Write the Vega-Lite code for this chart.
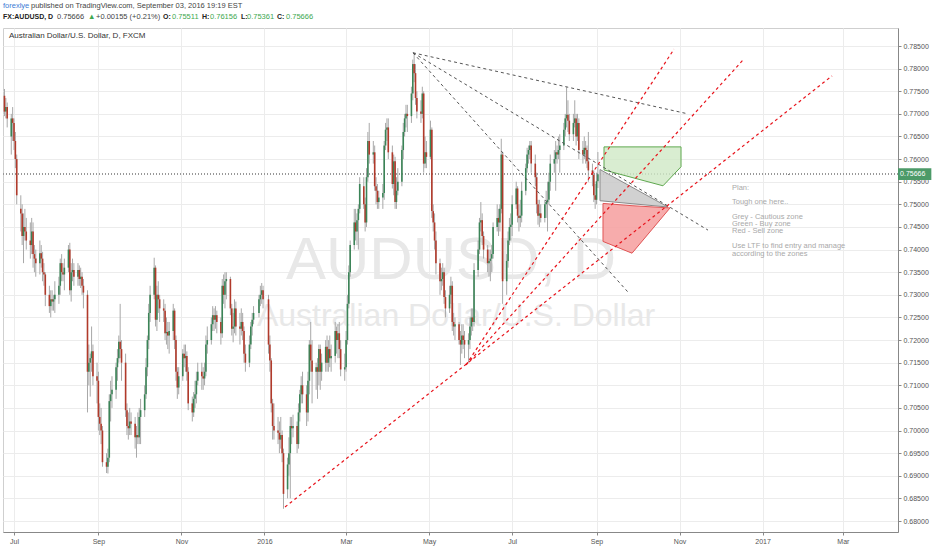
{
"$schema":"https://vega.github.io/schema/vega-lite/v6.json",
"width":895,"height":504,
"autosize":{"type":"none"},
"padding":{"left":3,"top":28,"right":34,"bottom":18},
"background":"white",
"config":{"view":{"stroke":"#cfcfcf"},"font":"Liberation Sans","text":{"font":"Liberation Sans"},
 "locale":{"time":{"dateTime":"%x, %X","date":"%-m/%-d/%Y","time":"%-I:%M:%S %p","periods":["AM","PM"],
  "days":["Sunday","Monday","Tuesday","Wednesday","Thursday","Friday","Saturday"],
  "shortDays":["Sun","Mon","Tue","Wed","Thu","Fri","Sat"],
  "months":["Jan","Feb","Mar","Apr","May","Jun","Jul","Aug","Sep","Oct","Nov","Dec"],
  "shortMonths":["Jan","Feb","Mar","Apr","May","Jun","Jul","Aug","Sep","Oct","Nov","Dec"]}}},
"datasets":{
"candles":[
{"t":"2015-06-24","o":0.7740,"h":0.7755,"l":0.7695,"c":0.7705},
{"t":"2015-06-25","o":0.7705,"h":0.7735,"l":0.7690,"c":0.7715},
{"t":"2015-06-26","o":0.7715,"h":0.7725,"l":0.7670,"c":0.7690},
{"t":"2015-06-29","o":0.7650,"h":0.7700,"l":0.7610,"c":0.7690},
{"t":"2015-06-30","o":0.7690,"h":0.7715,"l":0.7640,"c":0.7680},
{"t":"2015-07-01","o":0.7680,"h":0.7690,"l":0.7620,"c":0.7640},
{"t":"2015-07-02","o":0.7640,"h":0.7660,"l":0.7580,"c":0.7600},
{"t":"2015-07-03","o":0.7600,"h":0.7610,"l":0.7500,"c":0.7520},
{"t":"2015-07-06","o":0.7490,"h":0.7520,"l":0.7440,"c":0.7480},
{"t":"2015-07-07","o":0.7480,"h":0.7500,"l":0.7410,"c":0.7430},
{"t":"2015-07-08","o":0.7430,"h":0.7480,"l":0.7370,"c":0.7450},
{"t":"2015-07-09","o":0.7450,"h":0.7490,"l":0.7420,"c":0.7440},
{"t":"2015-07-10","o":0.7440,"h":0.7470,"l":0.7400,"c":0.7420},
{"t":"2015-07-13","o":0.7420,"h":0.7460,"l":0.7380,"c":0.7410},
{"t":"2015-07-14","o":0.7410,"h":0.7470,"l":0.7390,"c":0.7440},
{"t":"2015-07-15","o":0.7440,"h":0.7460,"l":0.7360,"c":0.7390},
{"t":"2015-07-16","o":0.7390,"h":0.7410,"l":0.7350,"c":0.7380},
{"t":"2015-07-17","o":0.7380,"h":0.7400,"l":0.7340,"c":0.7370},
{"t":"2015-07-20","o":0.7370,"h":0.7420,"l":0.7345,"c":0.7392},
{"t":"2015-07-21","o":0.7392,"h":0.7410,"l":0.7360,"c":0.7380},
{"t":"2015-07-22","o":0.7380,"h":0.7395,"l":0.7330,"c":0.7350},
{"t":"2015-07-23","o":0.7350,"h":0.7370,"l":0.7320,"c":0.7345},
{"t":"2015-07-24","o":0.7345,"h":0.7350,"l":0.7275,"c":0.7300},
{"t":"2015-07-27","o":0.7300,"h":0.7320,"l":0.7260,"c":0.7275},
{"t":"2015-07-28","o":0.7275,"h":0.7310,"l":0.7250,"c":0.7290},
{"t":"2015-07-29","o":0.7290,"h":0.7310,"l":0.7265,"c":0.7285},
{"t":"2015-07-30","o":0.7285,"h":0.7300,"l":0.7265,"c":0.7290},
{"t":"2015-07-31","o":0.7290,"h":0.7330,"l":0.7260,"c":0.7300},
{"t":"2015-08-03","o":0.7300,"h":0.7340,"l":0.7280,"c":0.7320},
{"t":"2015-08-04","o":0.7320,"h":0.7380,"l":0.7300,"c":0.7370},
{"t":"2015-08-05","o":0.7370,"h":0.7390,"l":0.7330,"c":0.7350},
{"t":"2015-08-06","o":0.7350,"h":0.7370,"l":0.7330,"c":0.7345},
{"t":"2015-08-07","o":0.7345,"h":0.7380,"l":0.7310,"c":0.7360},
{"t":"2015-08-10","o":0.7360,"h":0.7410,"l":0.7350,"c":0.7400},
{"t":"2015-08-11","o":0.7400,"h":0.7415,"l":0.7300,"c":0.7310},
{"t":"2015-08-12","o":0.7310,"h":0.7370,"l":0.7285,"c":0.7350},
{"t":"2015-08-13","o":0.7350,"h":0.7380,"l":0.7330,"c":0.7355},
{"t":"2015-08-14","o":0.7355,"h":0.7370,"l":0.7320,"c":0.7340},
{"t":"2015-08-17","o":0.7340,"h":0.7370,"l":0.7320,"c":0.7355},
{"t":"2015-08-18","o":0.7355,"h":0.7365,"l":0.7320,"c":0.7335},
{"t":"2015-08-19","o":0.7335,"h":0.7360,"l":0.7315,"c":0.7340},
{"t":"2015-08-20","o":0.7340,"h":0.7350,"l":0.7300,"c":0.7320},
{"t":"2015-08-21","o":0.7320,"h":0.7335,"l":0.7270,"c":0.7305},
{"t":"2015-08-24","o":0.7300,"h":0.7310,"l":0.7040,"c":0.7130},
{"t":"2015-08-25","o":0.7130,"h":0.7190,"l":0.7100,"c":0.7150},
{"t":"2015-08-26","o":0.7150,"h":0.7170,"l":0.7075,"c":0.7160},
{"t":"2015-08-27","o":0.7160,"h":0.7230,"l":0.7130,"c":0.7175},
{"t":"2015-08-28","o":0.7175,"h":0.7190,"l":0.7100,"c":0.7120},
{"t":"2015-08-31","o":0.7120,"h":0.7150,"l":0.7060,"c":0.7110},
{"t":"2015-09-01","o":0.7110,"h":0.7130,"l":0.7000,"c":0.7030},
{"t":"2015-09-02","o":0.7030,"h":0.7060,"l":0.6990,"c":0.7015},
{"t":"2015-09-03","o":0.7015,"h":0.7050,"l":0.6970,"c":0.7000},
{"t":"2015-09-04","o":0.7000,"h":0.7010,"l":0.6920,"c":0.6930},
{"t":"2015-09-07","o":0.6930,"h":0.6950,"l":0.6906,"c":0.6920},
{"t":"2015-09-08","o":0.6920,"h":0.6960,"l":0.6905,"c":0.6940},
{"t":"2015-09-09","o":0.6940,"h":0.7080,"l":0.6930,"c":0.7065},
{"t":"2015-09-10","o":0.7065,"h":0.7110,"l":0.7020,"c":0.7080},
{"t":"2015-09-11","o":0.7080,"h":0.7120,"l":0.7050,"c":0.7090},
{"t":"2015-09-14","o":0.7090,"h":0.7150,"l":0.7070,"c":0.7140},
{"t":"2015-09-15","o":0.7140,"h":0.7180,"l":0.7110,"c":0.7160},
{"t":"2015-09-16","o":0.7160,"h":0.7210,"l":0.7150,"c":0.7196},
{"t":"2015-09-17","o":0.7196,"h":0.7280,"l":0.7160,"c":0.7180},
{"t":"2015-09-18","o":0.7180,"h":0.7200,"l":0.7110,"c":0.7150},
{"t":"2015-09-21","o":0.7150,"h":0.7170,"l":0.7030,"c":0.7045},
{"t":"2015-09-22","o":0.7045,"h":0.7060,"l":0.6990,"c":0.7010},
{"t":"2015-09-23","o":0.7010,"h":0.7040,"l":0.6980,"c":0.7005},
{"t":"2015-09-24","o":0.7005,"h":0.7050,"l":0.6990,"c":0.7020},
{"t":"2015-09-25","o":0.7020,"h":0.7040,"l":0.6990,"c":0.7015},
{"t":"2015-09-28","o":0.7015,"h":0.7030,"l":0.6960,"c":0.6985},
{"t":"2015-09-29","o":0.6985,"h":0.7010,"l":0.6940,"c":0.6990},
{"t":"2015-09-30","o":0.6990,"h":0.7040,"l":0.6970,"c":0.6985},
{"t":"2015-10-01","o":0.6985,"h":0.7050,"l":0.6970,"c":0.7030},
{"t":"2015-10-02","o":0.7030,"h":0.7070,"l":0.6970,"c":0.7045},
{"t":"2015-10-05","o":0.7045,"h":0.7100,"l":0.7030,"c":0.7080},
{"t":"2015-10-06","o":0.7080,"h":0.7160,"l":0.7070,"c":0.7140},
{"t":"2015-10-07","o":0.7140,"h":0.7210,"l":0.7120,"c":0.7200},
{"t":"2015-10-08","o":0.7200,"h":0.7280,"l":0.7180,"c":0.7260},
{"t":"2015-10-09","o":0.7260,"h":0.7320,"l":0.7240,"c":0.7300},
{"t":"2015-10-12","o":0.7300,"h":0.7382,"l":0.7290,"c":0.7360},
{"t":"2015-10-13","o":0.7360,"h":0.7365,"l":0.7230,"c":0.7245},
{"t":"2015-10-14","o":0.7245,"h":0.7320,"l":0.7220,"c":0.7300},
{"t":"2015-10-15","o":0.7300,"h":0.7330,"l":0.7260,"c":0.7290},
{"t":"2015-10-16","o":0.7290,"h":0.7300,"l":0.7240,"c":0.7270},
{"t":"2015-10-19","o":0.7270,"h":0.7290,"l":0.7240,"c":0.7265},
{"t":"2015-10-20","o":0.7265,"h":0.7280,"l":0.7200,"c":0.7215},
{"t":"2015-10-21","o":0.7215,"h":0.7250,"l":0.7190,"c":0.7218},
{"t":"2015-10-22","o":0.7218,"h":0.7240,"l":0.7180,"c":0.7210},
{"t":"2015-10-23","o":0.7210,"h":0.7240,"l":0.7170,"c":0.7220},
{"t":"2015-10-26","o":0.7220,"h":0.7280,"l":0.7200,"c":0.7265},
{"t":"2015-10-27","o":0.7265,"h":0.7270,"l":0.7180,"c":0.7200},
{"t":"2015-10-28","o":0.7200,"h":0.7210,"l":0.7110,"c":0.7130},
{"t":"2015-10-29","o":0.7130,"h":0.7140,"l":0.7070,"c":0.7095},
{"t":"2015-10-30","o":0.7095,"h":0.7140,"l":0.7080,"c":0.7120},
{"t":"2015-11-02","o":0.7120,"h":0.7180,"l":0.7110,"c":0.7170},
{"t":"2015-11-03","o":0.7170,"h":0.7190,"l":0.7140,"c":0.7160},
{"t":"2015-11-04","o":0.7160,"h":0.7190,"l":0.7130,"c":0.7165},
{"t":"2015-11-05","o":0.7165,"h":0.7175,"l":0.7110,"c":0.7130},
{"t":"2015-11-06","o":0.7130,"h":0.7140,"l":0.7045,"c":0.7060},
{"t":"2015-11-09","o":0.7060,"h":0.7075,"l":0.7020,"c":0.7040},
{"t":"2015-11-10","o":0.7040,"h":0.7085,"l":0.7030,"c":0.7070},
{"t":"2015-11-11","o":0.7070,"h":0.7110,"l":0.7050,"c":0.7080},
{"t":"2015-11-12","o":0.7080,"h":0.7130,"l":0.7060,"c":0.7110},
{"t":"2015-11-13","o":0.7110,"h":0.7150,"l":0.7100,"c":0.7130},
{"t":"2015-11-16","o":0.7130,"h":0.7150,"l":0.7090,"c":0.7120},
{"t":"2015-11-17","o":0.7120,"h":0.7140,"l":0.7090,"c":0.7115},
{"t":"2015-11-18","o":0.7115,"h":0.7150,"l":0.7100,"c":0.7130},
{"t":"2015-11-19","o":0.7130,"h":0.7210,"l":0.7120,"c":0.7190},
{"t":"2015-11-20","o":0.7190,"h":0.7230,"l":0.7170,"c":0.7200},
{"t":"2015-11-23","o":0.7200,"h":0.7250,"l":0.7190,"c":0.7235},
{"t":"2015-11-24","o":0.7235,"h":0.7275,"l":0.7220,"c":0.7255},
{"t":"2015-11-25","o":0.7255,"h":0.7270,"l":0.7220,"c":0.7245},
{"t":"2015-11-26","o":0.7245,"h":0.7275,"l":0.7225,"c":0.7255},
{"t":"2015-11-27","o":0.7255,"h":0.7265,"l":0.7215,"c":0.7240},
{"t":"2015-11-30","o":0.7240,"h":0.7250,"l":0.7190,"c":0.7215},
{"t":"2015-12-01","o":0.7215,"h":0.7335,"l":0.7205,"c":0.7320},
{"t":"2015-12-02","o":0.7320,"h":0.7345,"l":0.7280,"c":0.7300},
{"t":"2015-12-03","o":0.7300,"h":0.7350,"l":0.7270,"c":0.7330},
{"t":"2015-12-04","o":0.7330,"h":0.7350,"l":0.7290,"c":0.7335},
{"t":"2015-12-07","o":0.7335,"h":0.7340,"l":0.7255,"c":0.7270},
{"t":"2015-12-08","o":0.7270,"h":0.7280,"l":0.7210,"c":0.7225},
{"t":"2015-12-09","o":0.7225,"h":0.7260,"l":0.7195,"c":0.7230},
{"t":"2015-12-10","o":0.7230,"h":0.7290,"l":0.7215,"c":0.7270},
{"t":"2015-12-11","o":0.7270,"h":0.7285,"l":0.7210,"c":0.7230},
{"t":"2015-12-14","o":0.7230,"h":0.7260,"l":0.7190,"c":0.7225},
{"t":"2015-12-15","o":0.7225,"h":0.7270,"l":0.7210,"c":0.7240},
{"t":"2015-12-16","o":0.7240,"h":0.7260,"l":0.7200,"c":0.7220},
{"t":"2015-12-17","o":0.7220,"h":0.7230,"l":0.7150,"c":0.7170},
{"t":"2015-12-18","o":0.7170,"h":0.7190,"l":0.7130,"c":0.7150},
{"t":"2015-12-21","o":0.7150,"h":0.7210,"l":0.7140,"c":0.7190},
{"t":"2015-12-22","o":0.7190,"h":0.7240,"l":0.7180,"c":0.7230},
{"t":"2015-12-23","o":0.7230,"h":0.7260,"l":0.7210,"c":0.7245},
{"t":"2015-12-24","o":0.7245,"h":0.7275,"l":0.7235,"c":0.7260},
{"t":"2015-12-28","o":0.7260,"h":0.7300,"l":0.7250,"c":0.7290},
{"t":"2015-12-29","o":0.7290,"h":0.7320,"l":0.7275,"c":0.7300},
{"t":"2015-12-30","o":0.7300,"h":0.7326,"l":0.7280,"c":0.7310},
{"t":"2015-12-31","o":0.7310,"h":0.7320,"l":0.7270,"c":0.7290},
{"t":"2016-01-04","o":0.7290,"h":0.7300,"l":0.7170,"c":0.7190},
{"t":"2016-01-05","o":0.7190,"h":0.7210,"l":0.7130,"c":0.7155},
{"t":"2016-01-06","o":0.7155,"h":0.7160,"l":0.7040,"c":0.7060},
{"t":"2016-01-07","o":0.7060,"h":0.7070,"l":0.6980,"c":0.7010},
{"t":"2016-01-08","o":0.7010,"h":0.7060,"l":0.6980,"c":0.7000},
{"t":"2016-01-11","o":0.7000,"h":0.7030,"l":0.6970,"c":0.6995},
{"t":"2016-01-12","o":0.6995,"h":0.7020,"l":0.6950,"c":0.6980},
{"t":"2016-01-13","o":0.6980,"h":0.7030,"l":0.6960,"c":0.6990},
{"t":"2016-01-14","o":0.6990,"h":0.7000,"l":0.6930,"c":0.6950},
{"t":"2016-01-15","o":0.6950,"h":0.6960,"l":0.6827,"c":0.6860},
{"t":"2016-01-18","o":0.6870,"h":0.6940,"l":0.6850,"c":0.6925},
{"t":"2016-01-19","o":0.6925,"h":0.6985,"l":0.6900,"c":0.6950},
{"t":"2016-01-20","o":0.6950,"h":0.7030,"l":0.6850,"c":0.7010},
{"t":"2016-01-21","o":0.7010,"h":0.7030,"l":0.6970,"c":0.7005},
{"t":"2016-01-22","o":0.7005,"h":0.7035,"l":0.6985,"c":0.7010},
{"t":"2016-01-25","o":0.7010,"h":0.7020,"l":0.6950,"c":0.6970},
{"t":"2016-01-26","o":0.6970,"h":0.7060,"l":0.6960,"c":0.7040},
{"t":"2016-01-27","o":0.7040,"h":0.7090,"l":0.7020,"c":0.7080},
{"t":"2016-01-28","o":0.7080,"h":0.7120,"l":0.7060,"c":0.7100},
{"t":"2016-01-29","o":0.7100,"h":0.7130,"l":0.7060,"c":0.7080},
{"t":"2016-02-01","o":0.7080,"h":0.7100,"l":0.7010,"c":0.7040},
{"t":"2016-02-02","o":0.7040,"h":0.7130,"l":0.7020,"c":0.7110},
{"t":"2016-02-03","o":0.7110,"h":0.7200,"l":0.7080,"c":0.7190},
{"t":"2016-02-04","o":0.7190,"h":0.7240,"l":0.7130,"c":0.7155},
{"t":"2016-02-05","o":0.7155,"h":0.7200,"l":0.7060,"c":0.7130},
{"t":"2016-02-08","o":0.7130,"h":0.7150,"l":0.7090,"c":0.7140},
{"t":"2016-02-09","o":0.7140,"h":0.7160,"l":0.7070,"c":0.7130},
{"t":"2016-02-10","o":0.7130,"h":0.7190,"l":0.7100,"c":0.7180},
{"t":"2016-02-11","o":0.7180,"h":0.7190,"l":0.7090,"c":0.7130},
{"t":"2016-02-12","o":0.7130,"h":0.7170,"l":0.7110,"c":0.7150},
{"t":"2016-02-15","o":0.7150,"h":0.7200,"l":0.7130,"c":0.7185},
{"t":"2016-02-16","o":0.7185,"h":0.7210,"l":0.7130,"c":0.7150},
{"t":"2016-02-17","o":0.7150,"h":0.7200,"l":0.7130,"c":0.7180},
{"t":"2016-02-18","o":0.7180,"h":0.7210,"l":0.7140,"c":0.7160},
{"t":"2016-02-19","o":0.7160,"h":0.7190,"l":0.7130,"c":0.7165},
{"t":"2016-02-22","o":0.7165,"h":0.7240,"l":0.7150,"c":0.7220},
{"t":"2016-02-23","o":0.7220,"h":0.7230,"l":0.7170,"c":0.7200},
{"t":"2016-02-24","o":0.7200,"h":0.7235,"l":0.7160,"c":0.7215},
{"t":"2016-02-25","o":0.7215,"h":0.7240,"l":0.7160,"c":0.7180},
{"t":"2016-02-26","o":0.7180,"h":0.7200,"l":0.7120,"c":0.7135},
{"t":"2016-02-29","o":0.7135,"h":0.7170,"l":0.7110,"c":0.7140},
{"t":"2016-03-01","o":0.7140,"h":0.7220,"l":0.7130,"c":0.7200},
{"t":"2016-03-02","o":0.7200,"h":0.7300,"l":0.7190,"c":0.7280},
{"t":"2016-03-03","o":0.7280,"h":0.7365,"l":0.7270,"c":0.7350},
{"t":"2016-03-04","o":0.7350,"h":0.7420,"l":0.7340,"c":0.7410},
{"t":"2016-03-07","o":0.7410,"h":0.7490,"l":0.7400,"c":0.7460},
{"t":"2016-03-08","o":0.7460,"h":0.7490,"l":0.7420,"c":0.7440},
{"t":"2016-03-09","o":0.7440,"h":0.7480,"l":0.7410,"c":0.7465},
{"t":"2016-03-10","o":0.7465,"h":0.7500,"l":0.7400,"c":0.7490},
{"t":"2016-03-11","o":0.7490,"h":0.7560,"l":0.7480,"c":0.7545},
{"t":"2016-03-14","o":0.7540,"h":0.7560,"l":0.7490,"c":0.7500},
{"t":"2016-03-15","o":0.7500,"h":0.7515,"l":0.7440,"c":0.7460},
{"t":"2016-03-16","o":0.7460,"h":0.7580,"l":0.7450,"c":0.7560},
{"t":"2016-03-17","o":0.7560,"h":0.7660,"l":0.7550,"c":0.7640},
{"t":"2016-03-18","o":0.7640,"h":0.7680,"l":0.7590,"c":0.7610},
{"t":"2016-03-21","o":0.7610,"h":0.7640,"l":0.7590,"c":0.7615},
{"t":"2016-03-22","o":0.7615,"h":0.7630,"l":0.7530,"c":0.7540},
{"t":"2016-03-23","o":0.7540,"h":0.7560,"l":0.7500,"c":0.7530},
{"t":"2016-03-24","o":0.7530,"h":0.7545,"l":0.7490,"c":0.7505},
{"t":"2016-03-25","o":0.7505,"h":0.7530,"l":0.7490,"c":0.7515},
{"t":"2016-03-28","o":0.7515,"h":0.7545,"l":0.7490,"c":0.7525},
{"t":"2016-03-29","o":0.7525,"h":0.7640,"l":0.7510,"c":0.7630},
{"t":"2016-03-30","o":0.7630,"h":0.7680,"l":0.7620,"c":0.7665},
{"t":"2016-03-31","o":0.7665,"h":0.7690,"l":0.7640,"c":0.7670},
{"t":"2016-04-01","o":0.7670,"h":0.7690,"l":0.7600,"c":0.7615},
{"t":"2016-04-04","o":0.7615,"h":0.7630,"l":0.7535,"c":0.7545},
{"t":"2016-04-05","o":0.7545,"h":0.7610,"l":0.7520,"c":0.7595},
{"t":"2016-04-06","o":0.7595,"h":0.7605,"l":0.7490,"c":0.7505},
{"t":"2016-04-07","o":0.7505,"h":0.7560,"l":0.7490,"c":0.7530},
{"t":"2016-04-08","o":0.7530,"h":0.7580,"l":0.7520,"c":0.7550},
{"t":"2016-04-11","o":0.7550,"h":0.7630,"l":0.7540,"c":0.7620},
{"t":"2016-04-12","o":0.7620,"h":0.7680,"l":0.7600,"c":0.7660},
{"t":"2016-04-13","o":0.7660,"h":0.7700,"l":0.7650,"c":0.7690},
{"t":"2016-04-14","o":0.7690,"h":0.7720,"l":0.7670,"c":0.7700},
{"t":"2016-04-15","o":0.7700,"h":0.7720,"l":0.7660,"c":0.7695},
{"t":"2016-04-18","o":0.7695,"h":0.7760,"l":0.7680,"c":0.7745},
{"t":"2016-04-19","o":0.7745,"h":0.7820,"l":0.7730,"c":0.7810},
{"t":"2016-04-20","o":0.7810,"h":0.7835,"l":0.7770,"c":0.7790},
{"t":"2016-04-21","o":0.7790,"h":0.7810,"l":0.7720,"c":0.7735},
{"t":"2016-04-22","o":0.7735,"h":0.7750,"l":0.7690,"c":0.7705},
{"t":"2016-04-25","o":0.7705,"h":0.7730,"l":0.7680,"c":0.7700},
{"t":"2016-04-26","o":0.7700,"h":0.7760,"l":0.7690,"c":0.7745},
{"t":"2016-04-27","o":0.7745,"h":0.7750,"l":0.7570,"c":0.7590},
{"t":"2016-04-28","o":0.7590,"h":0.7650,"l":0.7580,"c":0.7615},
{"t":"2016-04-29","o":0.7615,"h":0.7640,"l":0.7580,"c":0.7605},
{"t":"2016-05-02","o":0.7605,"h":0.7685,"l":0.7600,"c":0.7665},
{"t":"2016-05-03","o":0.7665,"h":0.7670,"l":0.7470,"c":0.7485},
{"t":"2016-05-04","o":0.7485,"h":0.7500,"l":0.7440,"c":0.7460},
{"t":"2016-05-05","o":0.7460,"h":0.7480,"l":0.7400,"c":0.7420},
{"t":"2016-05-06","o":0.7420,"h":0.7440,"l":0.7345,"c":0.7370},
{"t":"2016-05-09","o":0.7370,"h":0.7380,"l":0.7300,"c":0.7330},
{"t":"2016-05-10","o":0.7330,"h":0.7360,"l":0.7310,"c":0.7335},
{"t":"2016-05-11","o":0.7335,"h":0.7370,"l":0.7320,"c":0.7350},
{"t":"2016-05-12","o":0.7350,"h":0.7360,"l":0.7280,"c":0.7295},
{"t":"2016-05-13","o":0.7295,"h":0.7310,"l":0.7250,"c":0.7270},
{"t":"2016-05-16","o":0.7270,"h":0.7320,"l":0.7260,"c":0.7300},
{"t":"2016-05-17","o":0.7300,"h":0.7340,"l":0.7280,"c":0.7320},
{"t":"2016-05-18","o":0.7320,"h":0.7330,"l":0.7220,"c":0.7240},
{"t":"2016-05-19","o":0.7240,"h":0.7260,"l":0.7210,"c":0.7230},
{"t":"2016-05-20","o":0.7230,"h":0.7250,"l":0.7200,"c":0.7235},
{"t":"2016-05-23","o":0.7235,"h":0.7240,"l":0.7190,"c":0.7200},
{"t":"2016-05-24","o":0.7200,"h":0.7220,"l":0.7145,"c":0.7190},
{"t":"2016-05-25","o":0.7190,"h":0.7235,"l":0.7170,"c":0.7210},
{"t":"2016-05-26","o":0.7210,"h":0.7235,"l":0.7180,"c":0.7200},
{"t":"2016-05-27","o":0.7200,"h":0.7220,"l":0.7160,"c":0.7190},
{"t":"2016-05-30","o":0.7190,"h":0.7215,"l":0.7150,"c":0.7200},
{"t":"2016-05-31","o":0.7200,"h":0.7250,"l":0.7180,"c":0.7230},
{"t":"2016-06-01","o":0.7230,"h":0.7270,"l":0.7210,"c":0.7250},
{"t":"2016-06-02","o":0.7250,"h":0.7270,"l":0.7220,"c":0.7240},
{"t":"2016-06-03","o":0.7240,"h":0.7370,"l":0.7230,"c":0.7355},
{"t":"2016-06-06","o":0.7355,"h":0.7420,"l":0.7340,"c":0.7400},
{"t":"2016-06-07","o":0.7400,"h":0.7470,"l":0.7390,"c":0.7460},
{"t":"2016-06-08","o":0.7460,"h":0.7505,"l":0.7440,"c":0.7465},
{"t":"2016-06-09","o":0.7465,"h":0.7480,"l":0.7410,"c":0.7430},
{"t":"2016-06-10","o":0.7430,"h":0.7440,"l":0.7380,"c":0.7400},
{"t":"2016-06-13","o":0.7400,"h":0.7410,"l":0.7350,"c":0.7370},
{"t":"2016-06-14","o":0.7370,"h":0.7400,"l":0.7340,"c":0.7375},
{"t":"2016-06-15","o":0.7375,"h":0.7400,"l":0.7330,"c":0.7380},
{"t":"2016-06-16","o":0.7380,"h":0.7410,"l":0.7350,"c":0.7390},
{"t":"2016-06-17","o":0.7390,"h":0.7460,"l":0.7380,"c":0.7450},
{"t":"2016-06-20","o":0.7450,"h":0.7500,"l":0.7440,"c":0.7470},
{"t":"2016-06-21","o":0.7470,"h":0.7490,"l":0.7430,"c":0.7460},
{"t":"2016-06-22","o":0.7460,"h":0.7500,"l":0.7440,"c":0.7490},
{"t":"2016-06-23","o":0.7490,"h":0.7645,"l":0.7480,"c":0.7610},
{"t":"2016-06-24","o":0.7610,"h":0.7615,"l":0.7280,"c":0.7330},
{"t":"2016-06-27","o":0.7330,"h":0.7390,"l":0.7300,"c":0.7375},
{"t":"2016-06-28","o":0.7375,"h":0.7440,"l":0.7360,"c":0.7420},
{"t":"2016-06-29","o":0.7420,"h":0.7470,"l":0.7410,"c":0.7450},
{"t":"2016-06-30","o":0.7450,"h":0.7480,"l":0.7420,"c":0.7455},
{"t":"2016-07-01","o":0.7455,"h":0.7520,"l":0.7430,"c":0.7500},
{"t":"2016-07-04","o":0.7500,"h":0.7550,"l":0.7490,"c":0.7535},
{"t":"2016-07-05","o":0.7535,"h":0.7540,"l":0.7460,"c":0.7475},
{"t":"2016-07-06","o":0.7475,"h":0.7500,"l":0.7440,"c":0.7470},
{"t":"2016-07-07","o":0.7470,"h":0.7510,"l":0.7450,"c":0.7475},
{"t":"2016-07-08","o":0.7475,"h":0.7550,"l":0.7460,"c":0.7530},
{"t":"2016-07-11","o":0.7530,"h":0.7590,"l":0.7520,"c":0.7580},
{"t":"2016-07-12","o":0.7580,"h":0.7625,"l":0.7570,"c":0.7610},
{"t":"2016-07-13","o":0.7610,"h":0.7630,"l":0.7590,"c":0.7620},
{"t":"2016-07-14","o":0.7620,"h":0.7640,"l":0.7600,"c":0.7630},
{"t":"2016-07-15","o":0.7630,"h":0.7640,"l":0.7570,"c":0.7590},
{"t":"2016-07-18","o":0.7590,"h":0.7610,"l":0.7540,"c":0.7560},
{"t":"2016-07-19","o":0.7560,"h":0.7570,"l":0.7480,"c":0.7500},
{"t":"2016-07-20","o":0.7500,"h":0.7510,"l":0.7455,"c":0.7475},
{"t":"2016-07-21","o":0.7475,"h":0.7510,"l":0.7450,"c":0.7480},
{"t":"2016-07-22","o":0.7480,"h":0.7500,"l":0.7460,"c":0.7470},
{"t":"2016-07-25","o":0.7470,"h":0.7510,"l":0.7460,"c":0.7500},
{"t":"2016-07-26","o":0.7500,"h":0.7530,"l":0.7470,"c":0.7505},
{"t":"2016-07-27","o":0.7505,"h":0.7550,"l":0.7440,"c":0.7510},
{"t":"2016-07-28","o":0.7510,"h":0.7570,"l":0.7500,"c":0.7550},
{"t":"2016-07-29","o":0.7550,"h":0.7610,"l":0.7530,"c":0.7590},
{"t":"2016-08-01","o":0.7590,"h":0.7620,"l":0.7570,"c":0.7600},
{"t":"2016-08-02","o":0.7600,"h":0.7640,"l":0.7530,"c":0.7615},
{"t":"2016-08-03","o":0.7615,"h":0.7630,"l":0.7590,"c":0.7610},
{"t":"2016-08-04","o":0.7610,"h":0.7650,"l":0.7600,"c":0.7620},
{"t":"2016-08-05","o":0.7620,"h":0.7655,"l":0.7570,"c":0.7630},
{"t":"2016-08-08","o":0.7630,"h":0.7680,"l":0.7620,"c":0.7665},
{"t":"2016-08-09","o":0.7665,"h":0.7700,"l":0.7650,"c":0.7690},
{"t":"2016-08-10","o":0.7690,"h":0.7759,"l":0.7670,"c":0.7698},
{"t":"2016-08-11","o":0.7698,"h":0.7730,"l":0.7660,"c":0.7685},
{"t":"2016-08-12","o":0.7685,"h":0.7700,"l":0.7640,"c":0.7655},
{"t":"2016-08-15","o":0.7655,"h":0.7700,"l":0.7640,"c":0.7680},
{"t":"2016-08-16","o":0.7680,"h":0.7730,"l":0.7670,"c":0.7690},
{"t":"2016-08-17","o":0.7690,"h":0.7700,"l":0.7630,"c":0.7650},
{"t":"2016-08-18","o":0.7650,"h":0.7700,"l":0.7640,"c":0.7680},
{"t":"2016-08-19","o":0.7680,"h":0.7690,"l":0.7600,"c":0.7620},
{"t":"2016-08-22","o":0.7620,"h":0.7640,"l":0.7590,"c":0.7610},
{"t":"2016-08-23","o":0.7610,"h":0.7650,"l":0.7600,"c":0.7625},
{"t":"2016-08-24","o":0.7625,"h":0.7640,"l":0.7590,"c":0.7620},
{"t":"2016-08-25","o":0.7620,"h":0.7630,"l":0.7580,"c":0.7595},
{"t":"2016-08-26","o":0.7595,"h":0.7660,"l":0.7550,"c":0.7575},
{"t":"2016-08-29","o":0.7575,"h":0.7590,"l":0.7540,"c":0.7565},
{"t":"2016-08-30","o":0.7565,"h":0.7575,"l":0.7505,"c":0.7520},
{"t":"2016-08-31","o":0.7520,"h":0.7545,"l":0.7490,"c":0.7510},
{"t":"2016-09-01","o":0.7510,"h":0.7570,"l":0.7500,"c":0.7551},
{"t":"2016-09-02","o":0.75511,"h":0.76156,"l":0.75361,"c":0.75666}
],
"lines":[
{"id":"A","k":"r","t":"2016-01-16T03:00:00Z","p":0.6831},{"id":"A","k":"r","t":"2017-02-21T01:00:00Z","p":0.7784},
{"id":"B","k":"r","t":"2016-05-28T03:00:00Z","p":0.7145},{"id":"B","k":"r","t":"2016-10-27T23:00:00Z","p":0.7843},
{"id":"C","k":"r","t":"2016-05-28T03:00:00Z","p":0.7145},{"id":"C","k":"r","t":"2016-12-17T15:00:00Z","p":0.7819},
{"id":"G1","k":"g","t":"2016-04-19T04:00:00Z","p":0.7835},{"id":"G1","k":"g","t":"2016-11-07T05:00:00Z","p":0.7700},
{"id":"G2","k":"g","t":"2016-04-19T04:00:00Z","p":0.7835},{"id":"G2","k":"g","t":"2016-11-21T22:00:00Z","p":0.7443},
{"id":"G3","k":"g","t":"2016-04-19T04:00:00Z","p":0.7835},{"id":"G3","k":"g","t":"2016-09-24T03:00:00Z","p":0.7306}
],
"zones":[
{"z":"green","t":"2016-09-06T12:00:00Z","top":0.7627,"bot":0.7576},
{"z":"green","t":"2016-10-19T20:00:00Z","top":0.7627,"bot":0.7541},
{"z":"green","t":"2016-11-02T02:00:00Z","top":0.7627,"bot":0.7583},
{"z":"grey","t":"2016-09-03T13:00:00Z","top":0.7577,"bot":0.7508},
{"z":"grey","t":"2016-10-23T13:00:00Z","top":0.7494,"bot":0.7494},
{"z":"red","t":"2016-09-05T18:00:00Z","top":0.7502,"bot":0.7418},
{"z":"red","t":"2016-09-27T02:00:00Z","top":0.7497,"bot":0.7392},
{"z":"red","t":"2016-10-25T00:00:00Z","top":0.7492,"bot":0.7492}
],
"texts":[
{"g":"wm1","t":"2016-05-17T02:00:00Z","p":0.73748,"txt":"AUDUSD, D"},
{"g":"wm2","t":"2016-05-20T19:00:00Z","p":0.72532,"txt":"Australian Dollar/U.S. Dollar"},
{"g":"note","t":"2016-12-09T13:00:00Z","p":0.75355,"txt":"Plan:"},
{"g":"note","t":"2016-12-09T13:00:00Z","p":0.75052,"txt":"Tough one here.."},
{"g":"note","t":"2016-12-09T13:00:00Z","p":0.74725,"txt":"Grey - Cautious zone"},
{"g":"note","t":"2016-12-09T13:00:00Z","p":0.74565,"txt":"Green - Buy zone"},
{"g":"note","t":"2016-12-09T13:00:00Z","p":0.74405,"txt":"Red - Sell zone"},
{"g":"note","t":"2016-12-09T13:00:00Z","p":0.74079,"txt":"Use LTF to find entry and manage"},
{"g":"note","t":"2016-12-09T13:00:00Z","p":0.73902,"txt":"according to the zones"},
{"g":"title","t":"2015-06-27T08:00:00Z","p":0.78721,"txt":"Australian Dollar/U.S. Dollar, D, FXCM"},
{"g":"hb","t":"2015-06-22T22:00:00Z","p":0.79384,"txt":"forexlye"},
{"g":"hd","t":"2015-07-13T12:00:00Z","p":0.79384,"txt":"published on TradingView.com, September 03, 2016 19:19 EST"},
{"g":"hB","t":"2015-06-22T22:00:00Z","p":0.79134,"txt":"FX:AUDUSD, D"},
{"g":"hd","t":"2015-08-01T14:00:00Z","p":0.79134,"txt":"0.75666"},
{"g":"hG","t":"2015-08-24T09:00:00Z","p":0.79134,"txt":"▲"},
{"g":"hd","t":"2015-08-30T06:00:00Z","p":0.79134,"txt":"+0.00155 (+0.21%)"},
{"g":"hB","t":"2015-10-18T11:00:00Z","p":0.79134,"txt":"O:"},
{"g":"hG","t":"2015-10-25T02:00:00Z","p":0.79134,"txt":"0.75511"},
{"g":"hB","t":"2015-11-16T03:00:00Z","p":0.79134,"txt":"H:"},
{"g":"hG","t":"2015-11-22T00:00:00Z","p":0.79134,"txt":"0.76156"},
{"g":"hB","t":"2015-12-14T19:00:00Z","p":0.79134,"txt":"L:"},
{"g":"hG","t":"2015-12-19T05:00:00Z","p":0.79134,"txt":"0.75361"},
{"g":"hB","t":"2016-01-10T06:00:00Z","p":0.79134,"txt":"C:"},
{"g":"hG","t":"2016-01-16T20:00:00Z","p":0.79134,"txt":"0.75666"},
{"g":"tag","t":"2017-04-12T00:00:00Z","p":0.75666,"txt":"0.75666"}
]
},
"layer":[
{"data":{"name":"texts"},"transform":[{"filter":"datum.g=='wm1'"}],
 "mark":{"type":"text","fontSize":60,"color":"#e8e8e8","align":"center","baseline":"middle"},
 "encoding":{
  "x":{"field":"t","type":"temporal","title":null,
   "scale":{"type":"utc","nice":false,"padding":0,"domain":[{"year":2015,"month":6,"date":22,"hours":22,"utc":true},{"year":2017,"month":4,"date":10,"hours":12,"utc":true}]},
   "axis":{"title":null,"orient":"bottom","tickCount":{"interval":"month","step":2},"grid":true,"gridColor":"#ececec","domainColor":"#888","tickColor":"#888","tickSize":3,"labelFontSize":7,"labelColor":"#555","labelPadding":2,"labelFlush":false,"labelOverlap":false}},
  "y":{"field":"p","type":"quantitative","title":null,
   "scale":{"domain":[0.67757,0.78898],"zero":false,"nice":false,"padding":0},
   "axis":{"title":null,"orient":"right","tickCount":22,"format":".5f","grid":true,"gridColor":"#ececec","domainColor":"#888","tickColor":"#888","tickSize":3,"labelFontSize":7,"labelColor":"#555","labelPadding":2,"labelFlush":false,"labelOverlap":false}},
  "text":{"field":"txt"}}},
{"data":{"name":"texts"},"transform":[{"filter":"datum.g=='wm2'"}],
 "mark":{"type":"text","fontSize":32,"color":"#e8e8e8","align":"center","baseline":"middle"},
 "encoding":{"x":{"field":"t","type":"temporal"},"y":{"field":"p","type":"quantitative"},"text":{"field":"txt"}}},
{"data":{"name":"candles"},
 "mark":{"type":"rule","color":"#a8a8a8","strokeWidth":1},
 "encoding":{"x":{"field":"t","type":"temporal"},"y":{"field":"l","type":"quantitative"},"y2":{"field":"h"}}},
{"data":{"name":"candles"},
 "mark":{"type":"rule","color":"#9a9a9a","strokeDash":[1,2],"strokeWidth":1},
 "encoding":{"y":{"datum":0.75666,"type":"quantitative"}}},
{"data":{"name":"candles"},
 "mark":{"type":"bar","size":1.6},
 "encoding":{
  "x":{"field":"t","type":"temporal"},
  "y":{"field":"o","type":"quantitative"},
  "y2":{"field":"c"},
  "color":{"condition":{"test":"datum.c>=datum.o","value":"#3b8457"},"value":"#b13a2b"}}},
{"data":{"name":"zones"},"transform":[{"filter":"datum.z=='green'"}],
 "mark":{"type":"area","fill":"#cfe8c6","fillOpacity":0.8,"stroke":"#5fa84f","strokeWidth":1},
 "encoding":{"x":{"field":"t","type":"temporal"},"y":{"field":"top","type":"quantitative"},"y2":{"field":"bot"}}},
{"data":{"name":"zones"},"transform":[{"filter":"datum.z=='grey'"}],
 "mark":{"type":"area","fill":"#c9c9c9","fillOpacity":0.85,"stroke":"#8a8a8a","strokeWidth":1},
 "encoding":{"x":{"field":"t","type":"temporal"},"y":{"field":"top","type":"quantitative"},"y2":{"field":"bot"}}},
{"data":{"name":"zones"},"transform":[{"filter":"datum.z=='red'"}],
 "mark":{"type":"area","fill":"#f6a3a3","fillOpacity":0.9,"stroke":"#e05555","strokeWidth":1},
 "encoding":{"x":{"field":"t","type":"temporal"},"y":{"field":"top","type":"quantitative"},"y2":{"field":"bot"}}},
{"data":{"name":"lines"},"transform":[{"filter":"datum.k=='g'"}],
 "mark":{"type":"line","color":"#555555","strokeWidth":1,"strokeDash":[3,3]},
 "encoding":{"x":{"field":"t","type":"temporal"},"y":{"field":"p","type":"quantitative"},"detail":{"field":"id"}}},
{"data":{"name":"lines"},"transform":[{"filter":"datum.k=='r'"}],
 "mark":{"type":"line","color":"#e8141c","strokeWidth":1.2,"strokeDash":[3,3]},
 "encoding":{"x":{"field":"t","type":"temporal"},"y":{"field":"p","type":"quantitative"},"detail":{"field":"id"}}},
{"data":{"name":"texts"},"transform":[{"filter":"datum.g=='note'"}],
 "mark":{"type":"text","fontSize":7.5,"color":"#a9a9a9","align":"left","baseline":"middle"},
 "encoding":{"x":{"field":"t","type":"temporal"},"y":{"field":"p","type":"quantitative"},"text":{"field":"txt"}}},
{"data":{"name":"texts"},"transform":[{"filter":"datum.g=='title'"}],
 "mark":{"type":"text","fontSize":8,"color":"#333333","align":"left","baseline":"middle"},
 "encoding":{"x":{"field":"t","type":"temporal"},"y":{"field":"p","type":"quantitative"},"text":{"field":"txt"}}},
{"data":{"name":"texts"},"transform":[{"filter":"datum.g=='hb'"}],
 "mark":{"type":"text","fontSize":7.5,"color":"#3a7bd5","align":"left","baseline":"middle"},
 "encoding":{"x":{"field":"t","type":"temporal"},"y":{"field":"p","type":"quantitative"},"text":{"field":"txt"}}},
{"data":{"name":"texts"},"transform":[{"filter":"datum.g=='hd'"}],
 "mark":{"type":"text","fontSize":7.5,"color":"#444444","align":"left","baseline":"middle"},
 "encoding":{"x":{"field":"t","type":"temporal"},"y":{"field":"p","type":"quantitative"},"text":{"field":"txt"}}},
{"data":{"name":"texts"},"transform":[{"filter":"datum.g=='hB'"}],
 "mark":{"type":"text","fontSize":7,"fontWeight":"bold","color":"#222222","align":"left","baseline":"middle"},
 "encoding":{"x":{"field":"t","type":"temporal"},"y":{"field":"p","type":"quantitative"},"text":{"field":"txt"}}},
{"data":{"name":"texts"},"transform":[{"filter":"datum.g=='hG'"}],
 "mark":{"type":"text","fontSize":7.5,"color":"#3ea84f","align":"left","baseline":"middle"},
 "encoding":{"x":{"field":"t","type":"temporal"},"y":{"field":"p","type":"quantitative"},"text":{"field":"txt"}}},
{"data":{"name":"texts"},"transform":[{"filter":"datum.g=='tag'"}],
 "mark":{"type":"rect","color":"#4c9a68"},
 "encoding":{"x":{"datum":{"year":2017,"month":4,"date":10,"hours":12,"utc":true},"type":"temporal"},"x2":{"datum":{"year":2017,"month":5,"date":5,"utc":true}},
  "y":{"datum":0.75796,"type":"quantitative"},"y2":{"datum":0.75536}}},
{"data":{"name":"texts"},"transform":[{"filter":"datum.g=='tag'"}],
 "mark":{"type":"text","fontSize":7,"color":"#ffffff","align":"left","baseline":"middle"},
 "encoding":{"x":{"field":"t","type":"temporal"},"y":{"field":"p","type":"quantitative"},"text":{"field":"txt"}}}
]
}
